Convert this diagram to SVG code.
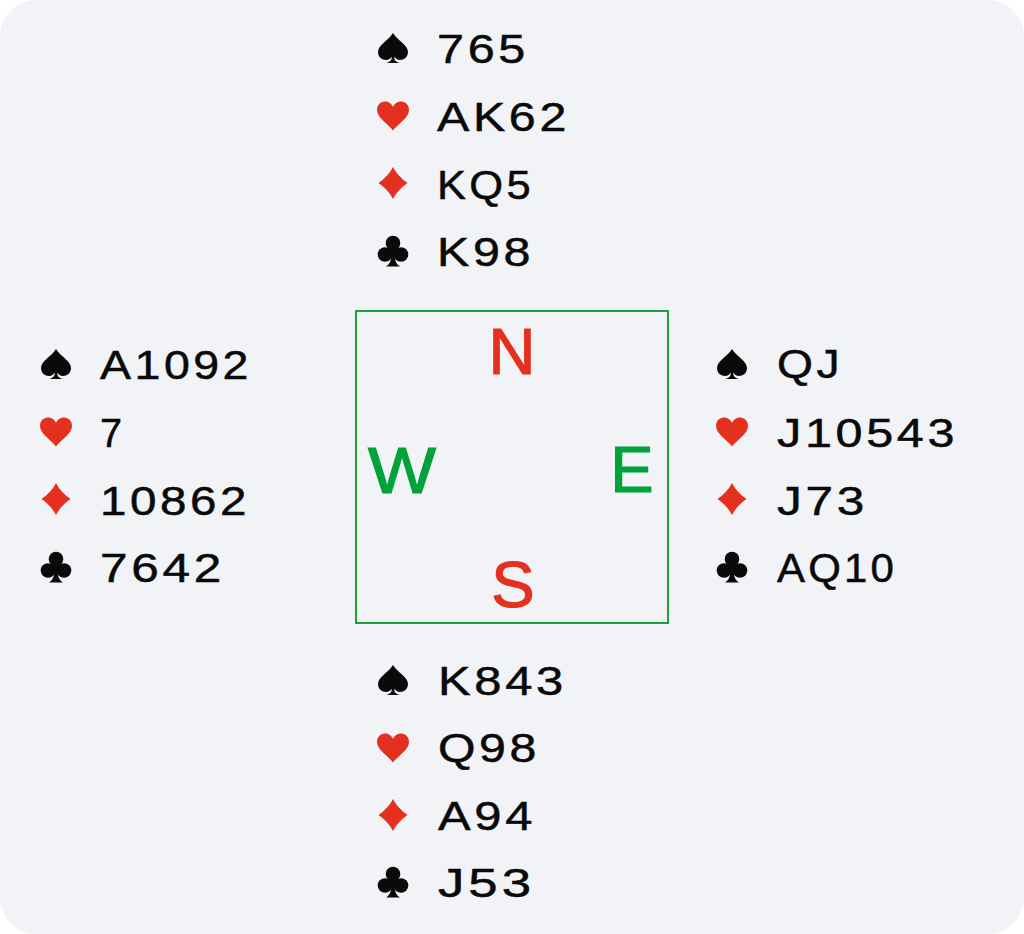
<svg xmlns="http://www.w3.org/2000/svg" width="1024" height="934" viewBox="0 0 1024 934">
<style>
.card{font-family:"Liberation Sans",Arial,sans-serif;font-size:40px;fill:#0a0a0a;letter-spacing:3px;stroke:#0a0a0a;stroke-width:0.5px}
.dir{font-family:"Liberation Sans",Arial,sans-serif;font-size:65px;text-anchor:middle;stroke-width:1.2px}
.red{fill:#e3301f}
.blk{fill:#0a0a0a}
.grn{fill:#00a33a}
.dir.red{stroke:#e3301f}
.dir.grn{stroke:#00a33a}
</style>
<defs>
<symbol id="spade" viewBox="-16 -16 32 32" overflow="visible">
<path d="M0,-15 C-4,-8 -15,-3 -15,4 C-15,9 -11,12 -7,12 C-4,12 -2,10 -1,8.5 C-1,12 -3,14 -6.5,15 L6.5,15 C3,14 1,12 1,8.5 C2,10 4,12 7,12 C11,12 15,9 15,4 C15,-3 4,-8 0,-15 Z"/>
</symbol>
<symbol id="heart" viewBox="-16 -16 32 32" overflow="visible">
<path d="M0,14.5 C-4,8.5 -16,2 -16,-6 C-16,-11 -12.5,-14.5 -8,-14.5 C-4,-14.5 -1,-12 0,-9 C1,-12 4,-14.5 8,-14.5 C12.5,-14.5 16,-11 16,-6 C16,2 4,8.5 0,14.5 Z"/>
</symbol>
<symbol id="diamond" viewBox="-16 -16 32 32" overflow="visible">
<path d="M0,-16 C3,-10 8,-4.5 14.5,0 C8,4.5 3,10 0,16 C-3,10 -8,4.5 -14.5,0 C-8,-4.5 -3,-10 0,-16 Z"/>
</symbol>
<symbol id="club" viewBox="-16 -16 32 32" overflow="visible">
<circle cx="0" cy="-8" r="7.3"/>
<circle cx="-8" cy="3.5" r="7.3"/>
<circle cx="8" cy="3.5" r="7.3"/>
<path d="M-4,-3 L4,-3 L3,5 L-3,5 Z"/>
<path d="M-1.6,2 C-1.6,9 -3,13 -7,15.5 L7,15.5 C3,13 1.6,9 1.6,2 Z"/>
</symbol>
</defs>
<rect x="0" y="0" width="1024" height="934" fill="#ffffff"/>
<rect id="background" x="0" y="0" width="1024" height="934" rx="36" ry="36" fill="#f2f3f7"/>

<g id="compass">
<rect x="356" y="311" width="312" height="312" fill="none" stroke="#1aa33a" stroke-width="2"/>
<text class="dir red" x="512" y="374">N</text>
<text class="dir grn" x="402" y="493" textLength="68" lengthAdjust="spacingAndGlyphs">W</text>
<text class="dir grn" x="632" y="492">E</text>
<text class="dir red" x="513" y="607">S</text>
</g>

<g id="north">
<use href="#spade" class="blk" x="377" y="32" width="32" height="32"/>
<text class="card" x="437" y="63" textLength="92" lengthAdjust="spacingAndGlyphs">765</text>
<use href="#heart" class="red" x="377" y="100" width="32" height="32"/>
<text class="card" x="437" y="131" textLength="133" lengthAdjust="spacingAndGlyphs">AK62</text>
<use href="#diamond" class="red" x="377" y="167" width="32" height="32"/>
<text class="card" x="437" y="199" textLength="97" lengthAdjust="spacingAndGlyphs">KQ5</text>
<use href="#club" class="blk" x="377" y="235" width="32" height="32"/>
<text class="card" x="437" y="266" textLength="97" lengthAdjust="spacingAndGlyphs">K98</text>
</g>

<g id="west">
<use href="#spade" class="blk" x="40" y="348" width="32" height="32"/>
<text class="card" x="100" y="379" textLength="152" lengthAdjust="spacingAndGlyphs">A1092</text>
<use href="#heart" class="red" x="40" y="416" width="32" height="32"/>
<text class="card" x="100" y="447" textLength="25" lengthAdjust="spacingAndGlyphs">7</text>
<use href="#diamond" class="red" x="40" y="483" width="32" height="32"/>
<text class="card" x="100" y="515" textLength="150" lengthAdjust="spacingAndGlyphs">10862</text>
<use href="#club" class="blk" x="40" y="551" width="32" height="32"/>
<text class="card" x="100" y="582" textLength="125" lengthAdjust="spacingAndGlyphs">7642</text>
</g>

<g id="east">
<use href="#spade" class="blk" x="716" y="348" width="32" height="32"/>
<text class="card" x="777" y="378" textLength="66" lengthAdjust="spacingAndGlyphs">QJ</text>
<use href="#heart" class="red" x="716" y="416" width="32" height="32"/>
<text class="card" x="777" y="447" textLength="181" lengthAdjust="spacingAndGlyphs">J10543</text>
<use href="#diamond" class="red" x="716" y="483" width="32" height="32"/>
<text class="card" x="777" y="515" textLength="91" lengthAdjust="spacingAndGlyphs">J73</text>
<use href="#club" class="blk" x="716" y="551" width="32" height="32"/>
<text class="card" x="777" y="582" textLength="120" lengthAdjust="spacingAndGlyphs">AQ10</text>
</g>

<g id="south">
<use href="#spade" class="blk" x="377" y="664" width="32" height="32"/>
<text class="card" x="438" y="695" textLength="129" lengthAdjust="spacingAndGlyphs">K843</text>
<use href="#heart" class="red" x="377" y="732" width="32" height="32"/>
<text class="card" x="438" y="762" textLength="102" lengthAdjust="spacingAndGlyphs">Q98</text>
<use href="#diamond" class="red" x="377" y="799" width="32" height="32"/>
<text class="card" x="438" y="830" textLength="98" lengthAdjust="spacingAndGlyphs">A94</text>
<use href="#club" class="blk" x="377" y="866" width="32" height="32"/>
<text class="card" x="438" y="897" textLength="97" lengthAdjust="spacingAndGlyphs">J53</text>
</g>
</svg>
